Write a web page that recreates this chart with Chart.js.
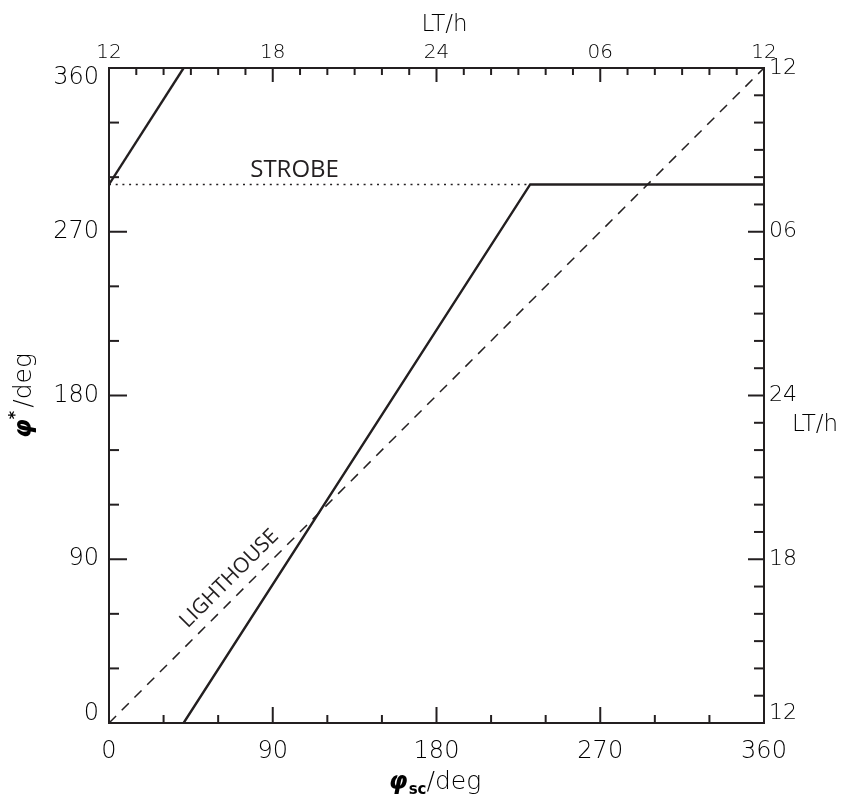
<!DOCTYPE html>
<html>
<head>
<meta charset="utf-8">
<script src="https://cdn.jsdelivr.net/npm/chart.js@4"></script>
<style>
  body { margin: 0; background: #fff; }
  #wrap { width: 850px; height: 800px; position: relative; }
</style>
</head>
<body>
<div id="wrap"><canvas id="phaseChart"></canvas></div>
<script>
// spacecraft phase (deg) vs. sampled phase (deg)
const lighthouseX = [0, 360];
const lighthouseY = [0, 360];

const strobeX = [41, 231.5, 360];
const strobeY = [0, 296, 296];

const wrapX = [0, 41];
const wrapY = [296, 360];

const strobeDotX = [0, 231.5];
const strobeDotY = [296, 296];

// tick labels
const degLabels = ['0', '90', '180', '270', '360'];
const ltLabels = ['12', '18', '24', '06', '12'];

const INK = '#231f20';
const LABEL = '#000';
const TICK_FONT = 'DejaVu Sans';

const toPoints = (xs, ys) => xs.map((x, i) => ({ x: x, y: ys[i] }));

// labels only on the 90 deg marks
const labelAt = (labels, v) => v % 90 === 0 ? labels[v / 90] : '';

// inward tick marks, long on 90 deg, short elsewhere
const innerTicks = {
  id: 'innerTicks',
  afterDraw(chart) {
    const ctx = chart.ctx;
    const lens = {
      x:  [16, 8],
      x2: [14, 7],
      y:  [18, 10],
      y2: [16, 10]
    };
    ctx.save();
    ctx.strokeStyle = INK;
    ctx.lineWidth = 2;
    Object.keys(lens).forEach(id => {
      const scale = chart.scales[id];
      scale.ticks.forEach(t => {
        const len = t.value % 90 === 0 ? lens[id][0] : lens[id][1];
        const p = scale.getPixelForValue(t.value);
        ctx.beginPath();
        if (id === 'x') { ctx.moveTo(p, scale.top); ctx.lineTo(p, scale.top - len); }
        if (id === 'x2') { ctx.moveTo(p, scale.bottom); ctx.lineTo(p, scale.bottom + len); }
        if (id === 'y') { ctx.moveTo(scale.right, p); ctx.lineTo(scale.right + len, p); }
        if (id === 'y2') { ctx.moveTo(scale.left, p); ctx.lineTo(scale.left - len, p); }
        ctx.stroke();
      });
    });
    ctx.restore();
  }
};

// axis titles and the two annotations
const textLayer = {
  id: 'textLayer',
  afterDraw(chart) {
    const ctx = chart.ctx;
    const area = chart.chartArea;
    const xs = chart.scales.x;
    const ys = chart.scales.y;
    ctx.save();
    ctx.fillStyle = LABEL;
    ctx.textBaseline = 'alphabetic';

    // top: LT/h
    ctx.font = '200 23px "' + TICK_FONT + '"';
    ctx.textAlign = 'center';
    ctx.fillText('LT/h', (area.left + area.right) / 2 + 8, 31);

    // right: LT/h next to the 24 label
    ctx.textAlign = 'left';
    ctx.fillText('LT/h', area.right + 28, chart.scales.y2.getPixelForValue(180) + 35);

    // bottom: phi_sc / deg
    const fPhi = 'italic bold 24px "DejaVu Sans"';
    const fSub = 'bold 15px "DejaVu Sans"';
    const fDeg = '200 25px "' + TICK_FONT + '"';
    ctx.font = fPhi; const wPhi = ctx.measureText('φ').width;
    ctx.font = fSub; const wSub = ctx.measureText('sc').width;
    ctx.font = fDeg; const wDeg = ctx.measureText('/deg').width;
    let x0 = (area.left + area.right) / 2 - 2 - (wPhi + wSub + wDeg) / 2;
    const by = 789;
    ctx.font = fPhi; ctx.fillText('φ', x0, by); x0 += wPhi + 1;
    ctx.font = fSub; ctx.fillText('sc', x0, by + 5); x0 += wSub;
    ctx.font = fDeg; ctx.fillText('/deg', x0, by);

    // left: phi* / deg, rotated
    ctx.save();
    ctx.translate(31, (area.top + area.bottom) / 2);
    ctx.rotate(-Math.PI / 2);
    const fStar = 'bold 16px "DejaVu Sans"';
    ctx.font = fPhi; const lPhi = ctx.measureText('φ').width;
    ctx.font = fStar; const lStar = ctx.measureText('*').width;
    let l0 = -(lPhi + lStar + 3 + wDeg) / 2;
    ctx.font = fPhi; ctx.fillText('φ', l0, 0); l0 += lPhi;
    ctx.font = fStar; ctx.fillText('*', l0, -11); l0 += lStar + 3;
    ctx.font = fDeg; ctx.fillText('/deg', l0, 0);
    ctx.restore();

    // STROBE
    ctx.fillStyle = INK;
    ctx.font = '24px "Open Sans"';
    ctx.textAlign = 'center';
    ctx.fillText('STROBE', xs.getPixelForValue(102), ys.getPixelForValue(300));

    // LIGHTHOUSE along the diagonal
    ctx.save();
    ctx.translate(xs.getPixelForValue(68.5), ys.getPixelForValue(77));
    ctx.rotate(-Math.PI / 4);
    ctx.font = '21px "Open Sans"';
    ctx.fillText('LIGHTHOUSE', 0, 0);
    ctx.restore();

    ctx.restore();
  }
};

const fixedSize = (w, h) => (scale) => {
  if (w) scale.width = w;
  if (h) scale.height = h;
};

const axisBase = (pos) => ({
  type: 'linear',
  position: pos,
  min: 0,
  max: 360,
  grid: { display: false, drawTicks: false },
  border: { display: true, color: INK, width: 2 }
});

const ctx = document.getElementById('phaseChart').getContext('2d');
new Chart(ctx, {
  type: 'scatter',
  data: {
    datasets: [
      {
        label: 'lighthouse',
        data: toPoints(lighthouseX, lighthouseY),
        showLine: true,
        borderColor: INK,
        borderWidth: 1.5,
        borderDash: [10, 8],
        pointRadius: 0
      },
      {
        label: 'strobe dotted',
        data: toPoints(strobeDotX, strobeDotY),
        showLine: true,
        borderColor: INK,
        borderWidth: 1.6,
        borderDash: [2, 4.7],
        pointRadius: 0
      },
      {
        label: 'strobe',
        data: toPoints(strobeX, strobeY),
        showLine: true,
        borderColor: INK,
        borderWidth: 2.4,
        pointRadius: 0
      },
      {
        label: 'strobe wrap',
        data: toPoints(wrapX, wrapY),
        showLine: true,
        borderColor: INK,
        borderWidth: 2.4,
        pointRadius: 0
      }
    ]
  },
  options: {
    responsive: true,
    maintainAspectRatio: false,
    animation: false,
    layout: { padding: 0 },
    plugins: {
      legend: { display: false },
      tooltip: { enabled: false }
    },
    scales: {
      x: Object.assign(axisBase('bottom'), {
        afterFit: fixedSize(null, 77),
        ticks: {
          stepSize: 30, maxTicksLimit: 100, autoSkip: false, maxRotation: 0,
          padding: 17, color: LABEL,
          font: { family: TICK_FONT, size: 24, weight: 200, lineHeight: 1 },
          callback: (v) => labelAt(degLabels, v)
        }
      }),
      x2: Object.assign(axisBase('top'), {
        afterFit: fixedSize(null, 68),
        ticks: {
          stepSize: 15, maxTicksLimit: 100, autoSkip: false, maxRotation: 0,
          padding: 5, color: LABEL,
          font: { family: TICK_FONT, size: 20, weight: 200, lineHeight: 1 },
          callback: (v) => labelAt(ltLabels, v)
        }
      }),
      y: Object.assign(axisBase('left'), {
        afterFit: fixedSize(109, null),
        ticks: {
          stepSize: 30, maxTicksLimit: 100, autoSkip: false,
          padding: 10, color: LABEL,
          font: { family: TICK_FONT, size: 24, weight: 200, lineHeight: 0.78 },
          callback: (v) => {
            const s = labelAt(degLabels, v);
            // end labels sit inside the frame
            if (v === 360) return ['', s];
            if (v === 0) return [s, ''];
            return s;
          }
        }
      }),
      y2: Object.assign(axisBase('right'), {
        afterFit: fixedSize(86, null),
        ticks: {
          stepSize: 15, maxTicksLimit: 100, autoSkip: false,
          padding: 5, color: LABEL,
          font: { family: TICK_FONT, size: 22, weight: 200, lineHeight: 0.9 },
          callback: (v) => {
            const s = labelAt(ltLabels, v);
            if (v === 0) return [s, ''];
            return s;
          }
        }
      })
    }
  },
  plugins: [innerTicks, textLayer]
});
</script>
</body>
</html>
